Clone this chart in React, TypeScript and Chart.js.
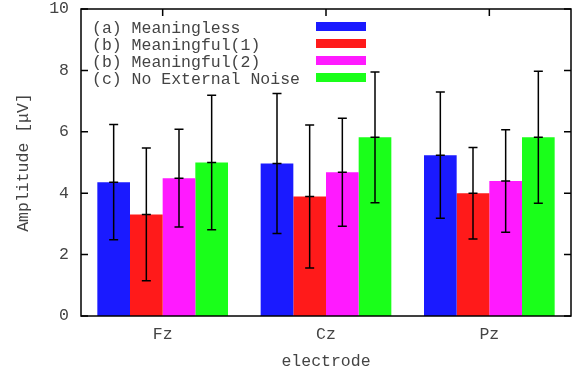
import React, { useEffect, useRef } from "react";
import { Chart, registerables } from "chart.js";

Chart.register(...registerables);

const categories = ["Fz", "Cz", "Pz"];
const seriesNames = [
  "(a) Meaningless",
  "(b) Meaningful(1)",
  "(b) Meaningful(2)",
  "(c) No External Noise",
];
const meaningless = [4.36, 4.97, 5.24];
const meaningful1 = [3.31, 3.89, 4.0];
const meaningful2 = [4.49, 4.68, 4.4];
const noNoise = [5.0, 5.82, 5.82];
const meaninglessErr = [1.88, 2.28, 2.06];
const meaningful1Err = [2.16, 2.33, 1.49];
const meaningful2Err = [1.59, 1.76, 1.67];
const noNoiseErr = [2.19, 2.13, 2.15];
const yTicks = [0, 2, 4, 6, 8, 10];

const colors = ["#1a1aff", "#ff1a1a", "#ff1aff", "#1aff1a"];
const FONT = "'Liberation Mono', 'DejaVu Sans Mono', monospace";
const TEXT = "#444444";
const FS = 16.5;

export default function App() {
  const ref = useRef<HTMLCanvasElement | null>(null);
  useEffect(() => {
    if (!ref.current) return;
    const values = [meaningless, meaningful1, meaningful2, noNoise];
    const errs = [meaninglessErr, meaningful1Err, meaningful2Err, noNoiseErr];

    const errorBars = {
      id: "errorBars",
      afterDatasetsDraw(chart: any) {
        const ctx = chart.ctx;
        const ys = chart.scales.y;
        ctx.save();
        ctx.strokeStyle = "#000";
        ctx.lineWidth = 1.5;
        chart.data.datasets.forEach((ds: any, di: number) => {
          const meta = chart.getDatasetMeta(di);
          meta.data.forEach((bar: any, i: number) => {
            const v = values[di][i];
            const e = errs[di][i];
            const x = bar.x;
            const yLo = ys.getPixelForValue(v - e);
            const yHi = ys.getPixelForValue(v + e);
            const yV = ys.getPixelForValue(v);
            ctx.beginPath();
            ctx.moveTo(x, yLo);
            ctx.lineTo(x, yHi);
            [yLo, yHi, yV].forEach((yy) => {
              ctx.moveTo(x - 4.5, yy);
              ctx.lineTo(x + 4.5, yy);
            });
            ctx.stroke();
          });
        });
        ctx.restore();
      },
    };

    const frame = {
      id: "frame",
      afterDraw(chart: any) {
        const ctx = chart.ctx;
        const { left, right, top, bottom } = chart.chartArea;
        const ys = chart.scales.y;
        const xs = chart.scales.x;
        ctx.save();
        ctx.strokeStyle = "#000";
        ctx.lineWidth = 1.5;
        ctx.beginPath();
        yTicks.forEach((t) => {
          const y = ys.getPixelForValue(t);
          ctx.moveTo(left, y);
          ctx.lineTo(left + 7, y);
          ctx.moveTo(right, y);
          ctx.lineTo(right - 7, y);
        });
        categories.forEach((_, i) => {
          const x = xs.getPixelForValue(i);
          ctx.moveTo(x, top);
          ctx.lineTo(x, top + 7);
        });
        ctx.stroke();
        ctx.strokeRect(left, top, right - left, bottom - top);

        // legend
        ctx.font = `${FS}px ${FONT}`;
        ctx.textBaseline = "middle";
        ctx.textAlign = "left";
        seriesNames.forEach((name, i) => {
          const cy = top + 19.5 + i * 17;
          ctx.fillStyle = TEXT;
          ctx.fillText(name, left + 11, cy);
          ctx.fillStyle = colors[i];
          ctx.fillRect(left + 235, cy - 6.5, 50, 9);
        });
        ctx.restore();
      },
    };

    const chart = new Chart(ref.current, {
      type: "bar",
      data: {
        labels: categories,
        datasets: values.map((v, i) => ({
          label: seriesNames[i],
          data: v,
          backgroundColor: colors[i],
          borderWidth: 0,
          categoryPercentage: 0.8,
          barPercentage: 1.0,
        })),
      },
      options: {
        animation: false,
        responsive: false,
        events: [],
        layout: { padding: { top: 0, right: 2, left: 0, bottom: 0 } },
        plugins: { legend: { display: false }, tooltip: { enabled: false } },
        scales: {
          x: {
            grid: { display: false, drawTicks: false },
            border: { display: false },
            ticks: { color: TEXT, font: { family: FONT, size: FS }, padding: 9 },
            title: {
              display: true,
              text: "electrode",
              color: TEXT,
              font: { family: FONT, size: FS },
              padding: { top: 0, bottom: -1 },
            },
            afterFit: (s: any) => {
              s.height = 55;
              s.paddingLeft = 0;
              s.paddingRight = 0;
            },
          },
          y: {
            min: 0,
            max: 10,
            grid: { display: false, drawTicks: false },
            border: { display: false },
            ticks: {
              stepSize: 2,
              color: TEXT,
              font: { family: FONT, size: FS },
              padding: 12,
            },
            title: {
              display: true,
              text: "Amplitude [μV]",
              color: TEXT,
              font: { family: FONT, size: FS },
              padding: { top: 14, bottom: 0 },
            },
            afterFit: (s: any) => {
              s.width = 81;
              s.paddingTop = 9;
              s.paddingBottom = 0;
            },
          },
        },
      },
      plugins: [errorBars, frame],
    });
    return () => chart.destroy();
  }, []);
  return (
    <div style={{ position: "fixed", left: 0, top: 0, width: 573, height: 371, background: "#fff" }}>
      <canvas ref={ref} width={573} height={371} style={{ width: 573, height: 371 }} />
    </div>
  );
}
